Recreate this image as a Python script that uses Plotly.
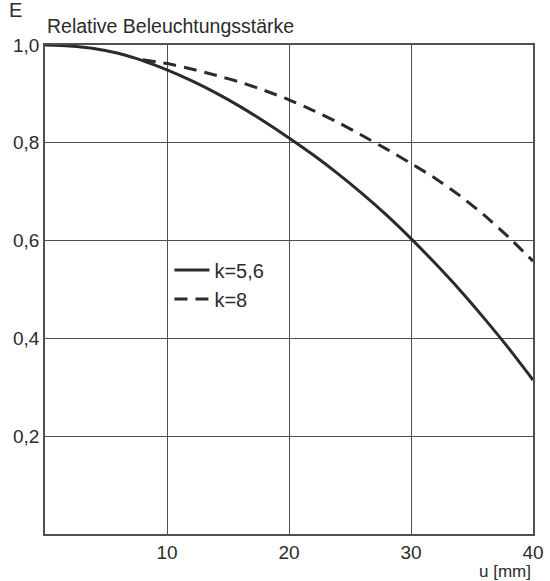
import plotly.graph_objects as go

u_solid = [0, 2, 4, 6, 8, 10, 12, 14, 16, 18, 20, 22, 24, 26, 28, 30, 32, 34, 36, 38, 40]
e_k56 = [1.0, 0.998, 0.993, 0.983, 0.968, 0.949, 0.927, 0.902, 0.874, 0.843, 0.81,
         0.775, 0.737, 0.696, 0.652, 0.604, 0.553, 0.499, 0.441, 0.38, 0.315]
u_dash = [8, 10, 12, 14, 16, 18, 20, 22, 24, 26, 28, 30, 32, 34, 36, 38, 40]
e_k8 = [0.970, 0.962, 0.951, 0.938, 0.924, 0.907, 0.888, 0.866, 0.842, 0.815,
        0.787, 0.758, 0.727, 0.692, 0.652, 0.607, 0.558]
x_ticks = [10, 20, 30, 40]
y_ticks = [0.2, 0.4, 0.6, 0.8, 1.0]

ink = "#2b2b2b"
grid = "#505050"
font = "Liberation Sans, Arial, sans-serif"

fig = go.Figure()
fig.add_trace(go.Scatter(x=u_solid, y=e_k56, mode="lines", name="k=5,6",
                         line=dict(color=ink, width=3, shape="spline", smoothing=0.6)))
fig.add_trace(go.Scatter(x=u_dash, y=e_k8, mode="lines", name="k=8",
                         line=dict(color=ink, width=3, dash="13px,8px", shape="spline",
                                   smoothing=0.6)))

fig.update_layout(
    width=550, height=581,
    margin=dict(l=45, r=17, t=45, b=47),
    paper_bgcolor="white", plot_bgcolor="white",
    separators=",.",
    font=dict(family=font, size=17, color=ink),
    showlegend=True,
    legend=dict(x=0.255, y=0.58, xanchor="left", yanchor="top",
                bgcolor="rgba(0,0,0,0)", font=dict(size=20, color=ink),
                itemwidth=35, tracegroupgap=0),
    xaxis=dict(range=[0, 40], tickvals=x_ticks, ticks="", showgrid=True,
               gridcolor=grid, gridwidth=1.2, showline=True, linecolor=grid,
               linewidth=1.5, mirror=True, zeroline=False, automargin=False,
               tickfont=dict(size=19, color=ink)),
    yaxis=dict(range=[0, 1], tickvals=y_ticks, tickformat=".1f", ticks="",
               showgrid=True, gridcolor=grid, gridwidth=1.2, showline=True,
               linecolor=grid, linewidth=1.5, mirror=True, zeroline=False,
               automargin=False, tickfont=dict(size=19, color=ink)),
    annotations=[
        dict(text="E", xref="paper", yref="paper", x=-0.077, y=1.045,
             xanchor="left", yanchor="bottom", showarrow=False,
             font=dict(size=20, color=ink)),
        dict(text="Relative Beleuchtungsstärke", xref="paper", yref="paper",
             x=0.0, y=1.012, xanchor="left", yanchor="bottom", showarrow=False,
             font=dict(size=19.5, color=ink)),
        dict(text="u [mm]", xref="paper", yref="paper", x=1.0, y=-0.077,
             xanchor="right", yanchor="middle", showarrow=False,
             font=dict(size=17, color=ink)),
    ],
)

fig.write_html("out.html")
